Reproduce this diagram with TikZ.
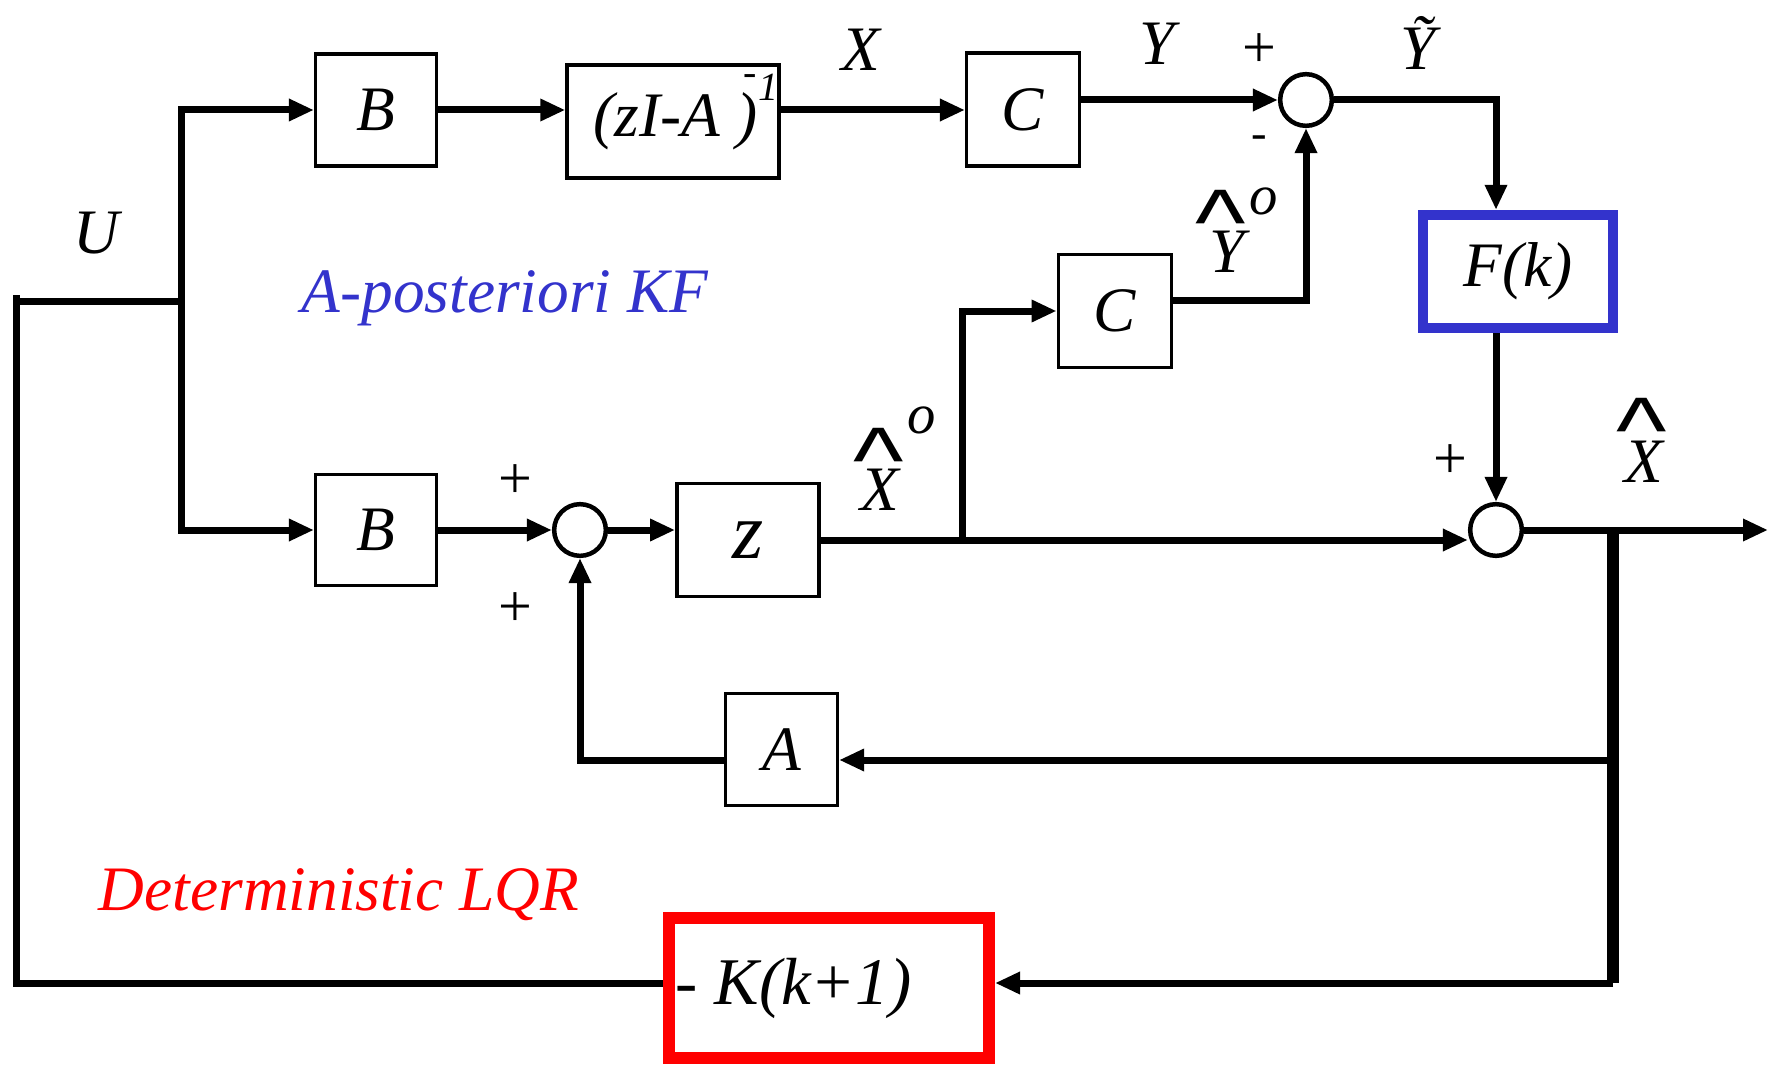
\documentclass[tikz,border=0pt]{standalone}
\definecolor{KFBlue}{HTML}{3333CC}
\definecolor{LQRRed}{HTML}{FF0000}
\usepackage{fontspec}
\setmainfont{Liberation Serif}
\newfontfamily\hatfont{Liberation Sans}
\usepackage{tikz}
\usetikzlibrary{arrows.meta,positioning,calc}
\newcommand{\blkfont}{\fontsize{19}{22}\selectfont\itshape}
\newcommand{\sgnfont}{\fontsize{18}{20}\selectfont}
\newcommand{\hatglyph}{\scalebox{1.15}[1]{\raisebox{-0.3em}[0.42em][0pt]{\textasciicircum}}}

\begin{document}
\begin{tikzpicture}[x=0.3pt,y=-0.3pt,
    blk/.style={draw,line width=1.05pt,inner sep=0pt,font=\blkfont},
    sumpt/.style={circle,draw,line width=1.35pt,inner sep=0pt,minimum size=15.5pt},
    wire/.style={line width=2.1pt},
    sig/.style={wire,-{Triangle[length=7.5pt,width=6.3pt]}},
    lbl/.style={inner sep=0pt,anchor=base,font=\blkfont},
    sgn/.style={inner sep=0pt,font=\sgnfont},
    hatmark/.style={inner sep=0pt,anchor=north,font=\hatfont\fontsize{28}{28}\selectfont},
    supo/.style={inner sep=0pt,font=\fontsize{17}{17}\selectfont\itshape}]
  \useasboundingbox (0,0) rectangle (1770,1064);

  \node[blk,minimum width=36.2pt,minimum height=33.5pt] (B1) at (376,110) {B};
  \node[blk,minimum width=62.6pt,minimum height=34pt] (zIA) at (673,121.5)
    {\kern8pt(zI-A )\kern-4pt{\fontsize{12}{12}\selectfont\smash{\raisebox{15.5pt}{-}}\kern0.5pt\smash{\raisebox{11pt}{1}}}};
  \node[blk,minimum width=33.8pt,minimum height=34pt] (C1) at (1023,109.5) {C};
  \node[sumpt] (sum1) at (1306,100) {};
  \node[blk,draw=KFBlue,line width=3pt,minimum width=57pt,minimum height=34pt] (F) at (1518,271.5) {F(k)};
  \node[blk,minimum width=34pt,minimum height=33.8pt] (C2) at (1115,311) {C};
  \node[blk,minimum width=36.2pt,minimum height=33.2pt] (B2) at (376,530) {B};
  \node[sumpt] (sum2) at (580,530) {};
  \node[blk,minimum width=42.7pt,minimum height=33.8pt,font=\fontsize{24}{26}\selectfont\itshape] (z) at (748,540) {z};
  \node[sumpt] (sum3) at (1496,530) {};
  \node[blk,minimum width=33.5pt,minimum height=33.5pt] (A) at (781.5,749.5) {A};
  \node[blk,draw=LQRRed,line width=3.6pt,minimum width=96pt,minimum height=42pt] (K) at (829,988)
    {\makebox[92pt][l]{\fontsize{20}{22}\selectfont - K(k+1)}};

  \coordinate (uj) at (181,301);
  \coordinate (ul) at (16,295);
  \coordinate (brx) at (962,540);
  \coordinate (tap) at (1613,530);
  \coordinate (atap) at (1613,760);
  \coordinate (tapk) at (1613,983);
  \coordinate (out) at (1768,530);

  \draw[wire] (K.west |- tapk) -| (ul);
  \draw[wire] (ul |- uj) -- (uj);
  \draw[sig] (uj) |- (B1);
  \draw[sig] (uj) |- (B2);
  \draw[sig] (B1) -- (B1 -| zIA.west);
  \draw[sig] (B1 -| zIA.east) -- (B1 -| C1.west);
  \draw[sig] (C1.east |- sum1) -- (sum1);
  \draw[sig] (sum1) -| (F.north -| sum3);
  \draw[sig] (F.south -| sum3) -- (sum3);
  \draw[sig] ([yshift=3.3pt]C2.east) -| (sum1);
  \draw[sig] (brx) |- (C2);
  \draw[sig] (B2) -- (sum2);
  \draw[sig] (sum2) -- (sum2 -| z.west);
  \draw[sig] (z) -- (z -| sum3.west);
  \draw[sig] (sum3) -- (out);
  \draw[line width=3.5pt] (tap) -- (tapk);
  \draw[sig] (atap) -- (atap -| A.east);
  \draw[sig] (atap -| A.west) -| (sum2);
  \draw[sig] (tapk) -- (tapk -| K.east);

  \node[lbl] (Ulbl) at (96,253) {U};
  \node[lbl] (Xlbl) at (861,71) {X};
  \node[lbl] (Ylbl) at (1157,65) {Y};
  \node[lbl] (Ytil) at (1418,70) {\~{Y}};
  \node[sgn] (plus1) at (1259,51) {+};
  \node[sgn,font=\fontsize{14}{16}\selectfont] (minus1) at (1259,142) {-};
  \node[sgn] (plus2) at (515,482) {+};
  \node[sgn] (plus3) at (515,610) {+};
  \node[sgn] (plus4) at (1450,462) {+};

  \node[hatmark] (yhathat) at (1221,187) {\hatglyph};
  \node[lbl] (yhat) at (1227,272) {Y};
  \node[supo] (yhato) at (1264,201) {o};
  \node[hatmark] (xhathat) at (879,425) {\hatglyph};
  \node[lbl] (xhat) at (880,510) {X};
  \node[supo] (xhato) at (922,420) {o};
  \node[hatmark] (xouthat) at (1642,395) {\hatglyph};
  \node[lbl] (xout) at (1644,482) {X};

  \node[lbl,text=KFBlue] (kftitle) at (505,312) {A-posteriori KF};
  \node[lbl,text=LQRRed] (lqrtitle) at (339,910) {Deterministic LQR};
\end{tikzpicture}
\end{document}
